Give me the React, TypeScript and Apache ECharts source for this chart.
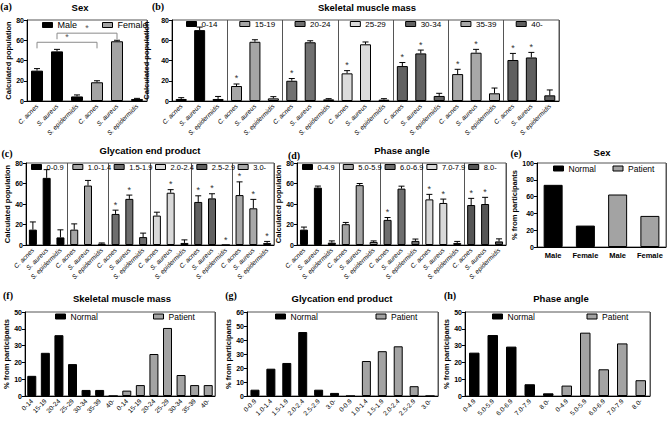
import React, { useEffect, useRef } from "react";
import * as echarts from "echarts";

const FONT = "'Liberation Sans', Arial, Helvetica, sans-serif";
const SERIF = "'Liberation Serif', 'Times New Roman', serif";

const species = ["C. acnes", "S. aureus", "S. epidermidis"];

// (a) Sex – calculated population
const sexGroups = ["Male", "Female"];
const sexMeans = [[30, 49, 4.5], [18.5, 59, 2]];
const sexErrTop = [[32, 51, 6], [20, 60, 2.6]];
// [from category, to category, bracket level, tip level]
const sexBrackets = [[0, 3, 58, 52], [1, 4, 67, 61]];

// (b) Skeletal muscle mass – calculated population
const smmGroups = ["0-14", "15-19", "20-24", "25-29", "30-34", "35-39", "40-"];
const smmMeans = [[2, 70, 2], [14.8, 58.5, 2.6], [20, 58, 1.6], [27.3, 56, 1.3], [34.5, 47, 5], [26.6, 47.7, 7.6], [40.5, 43, 5.6]];
const smmErrTop = [[3.3, 73, 4.5], [16.8, 60.5, 4.3], [22.2, 59.5, 2.3], [30, 58.3, 2.3], [38, 50.3, 7.6], [31.3, 51, 12.8], [47, 48, 10.9]];
const smmStars = [[0, 0, 0], [1, 0, 0], [1, 0, 0], [1, 0, 0], [1, 1, 0], [1, 1, 0], [1, 1, 0]];

// (c) Glycation end product – calculated population
const gepGroups = ["0-0.9", "1.0-1.4", "1.5-1.9", "2.0-2.4", "2.5-2.9", "3.0-"];
const gepMeans = [[15, 65.5, 7.4], [15, 58, 1.3], [30.3, 45, 7.7], [28.7, 51, 2], [42, 45.5, 0], [48.7, 35.8, 2]];
const gepErrTop = [[22.5, 73.5, 14.8], [20.6, 63, 2], [34, 48.7, 11.6], [32, 54, 5], [48, 50, 0], [61.6, 44.5, 3.5]];
const gepStars = [[0, 0, 0], [0, 0, 0], [1, 1, 0], [0, 1, 0], [1, 1, 1], [1, 1, 1]];

// (d) Phase angle – calculated population
const paGroups = ["0-4.9", "5.0-5.9", "6.0-6.9", "7.0-7.9", "8.0-"];
const paMeans = [[15, 56, 2.3], [20.3, 58.4, 3], [24.5, 55, 4], [44.5, 41, 2], [39, 40, 3.5]];
const paErrTop = [[17.5, 57.5, 4], [22, 60, 4], [26.8, 57.4, 5.8], [49.4, 44.8, 3.5], [45.5, 46.5, 6]];
const paStars = [[0, 0, 0], [0, 0, 0], [1, 0, 0], [1, 1, 0], [1, 1, 0]];

// (e)-(h) % from participants
const cohortGroups = ["Normal", "Patient"];
const sexCats = ["Male", "Female"];
const sexShare = [[74, 25.5], [62.5, 37]];
const smmShare = [[12, 25.7, 36.2, 19, 3.6, 3.6, 0], [3.2, 6.5, 25, 40.5, 12.5, 6.5, 6.5]];
const gepShare = [[4.5, 19.5, 23.6, 45.7, 4.5, 2.2], [0, 25, 32, 35.5, 7, 0]];
const paShare = [[25.8, 36.3, 29.4, 7, 1.6], [6.2, 37.7, 15.9, 31.3, 9.4]];

// fills
const sexColors = ["#000000", "#a3a3a3"];
const smmColors = ["#000000", "#a6a6a6", "#707070", "#dcdcdc", "#626262", "#a8a8a8", "#5f5f5f"];
const gepColors = ["#000000", "#a4a4a4", "#6e6e6e", "#d9d9d9", "#616161", "#a8a8a8"];
const paColors = ["#000000", "#a4a4a4", "#6e6e6e", "#d9d9d9", "#555555"];
const cohortColors = ["#000000", "#a3a3a3"];

interface Panel {
  rect: number[];
  groups: string[];
  cats: string[];
  means: number[][];
  errs?: number[][];
  stars?: number[][];
  colors: string[];
  yMax: number;
  yStep: number;
  yName: string;
  nameGap: number;
  barWidth: number;
  legendX: number[];
  legendY: number;
  legendFont: number;
  catRotate: number;
  catFont: number;
  catItalic?: boolean;
  catBold?: boolean;
}

const POP = "Calculated population";
const PCT = "% from participants";

const panels: Panel[] = [
  { rect: [27, 20, 120, 81], groups: sexGroups, cats: species, means: sexMeans, errs: sexErrTop, colors: sexColors,
    yMax: 80, yStep: 20, yName: POP, nameGap: 14, barWidth: 12, legendX: [15, 15], legendY: 25.5, legendFont: 9,
    catRotate: 45, catFont: 6.5, catItalic: true },
  { rect: [172, 20, 387, 81], groups: smmGroups, cats: species, means: smmMeans, errs: smmErrTop, stars: smmStars, colors: smmColors,
    yMax: 80, yStep: 20, yName: POP, nameGap: 14, barWidth: 11, legendX: [14, 12, 12, 12, 12, 12, 12], legendY: 25, legendFont: 8,
    catRotate: 45, catFont: 6.5, catItalic: true },
  { rect: [26, 163, 248, 82], groups: gepGroups, cats: species, means: gepMeans, errs: gepErrTop, stars: gepStars, colors: gepColors,
    yMax: 80, yStep: 20, yName: POP, nameGap: 14, barWidth: 8, legendX: [5, 5, 5, 5, 5, 5], legendY: 168, legendFont: 7.5,
    catRotate: 45, catFont: 6.5, catItalic: true },
  { rect: [297, 163, 209, 82], groups: paGroups, cats: species, means: paMeans, errs: paErrTop, stars: paStars, colors: paColors,
    yMax: 80, yStep: 20, yName: POP, nameGap: 14, barWidth: 8, legendX: [5, 4, 4, 4, 4], legendY: 168, legendFont: 7.5,
    catRotate: 45, catFont: 6.5, catItalic: true },
  { rect: [537, 163, 129, 84], groups: cohortGroups, cats: sexCats, means: sexShare, colors: cohortColors,
    yMax: 100, yStep: 20, yName: PCT, nameGap: 17, barWidth: 19, legendX: [16, 11], legendY: 169, legendFont: 8.5,
    catRotate: 0, catFont: 7.5, catBold: true },
  { rect: [25, 312, 190, 84], groups: cohortGroups, cats: smmGroups, means: smmShare, colors: cohortColors,
    yMax: 50, yStep: 10, yName: PCT, nameGap: 12, barWidth: 9, legendX: [30, 33], legendY: 317, legendFont: 8.5,
    catRotate: 45, catFont: 6.5 },
  { rect: [247, 312, 191, 84], groups: cohortGroups, cats: gepGroups, means: gepShare, colors: cohortColors,
    yMax: 60, yStep: 10, yName: PCT, nameGap: 14, barWidth: 9, legendX: [28, 33], legendY: 317, legendFont: 8.5,
    catRotate: 45, catFont: 6.5 },
  { rect: [465, 312, 185, 84], groups: cohortGroups, cats: paGroups, means: paShare, colors: cohortColors,
    yMax: 50, yStep: 10, yName: PCT, nameGap: 12, barWidth: 10.5, legendX: [27, 29], legendY: 317, legendFont: 8.5,
    catRotate: 45, catFont: 6.5 },
];

const panelTitles = [
  { text: "Sex", x: 80, y: 7 },
  { text: "Skeletal muscle mass", x: 367, y: 7 },
  { text: "Glycation end product", x: 150, y: 150 },
  { text: "Phase angle", x: 402, y: 150 },
  { text: "Sex", x: 602, y: 152 },
  { text: "Skeletal muscle mass", x: 122, y: 298 },
  { text: "Glycation end product", x: 342, y: 298 },
  { text: "Phase angle", x: 561, y: 298 },
];

const panelTags = [
  { text: "(a)", x: 6, y: 6 },
  { text: "(b)", x: 158, y: 6 },
  { text: "(c)", x: 7, y: 153 },
  { text: "(d)", x: 294, y: 155 },
  { text: "(e)", x: 516, y: 153 },
  { text: "(f)", x: 8, y: 295 },
  { text: "(g)", x: 231, y: 295 },
  { text: "(h)", x: 450, y: 295 },
];

const lineStyle = { stroke: "#000", lineWidth: 1 };

function errorBar(_params: any, api: any) {
  const x = api.value(0);
  const m = api.value(1);
  const e = api.value(2);
  const star = api.value(3);
  const pm = api.coord([x, m]);
  const pe = api.coord([x, e]);
  const children: any[] = [];
  if (e > m) {
    children.push({ type: "line", shape: { x1: pm[0], y1: pm[1], x2: pe[0], y2: pe[1] }, style: lineStyle });
    children.push({ type: "line", shape: { x1: pe[0] - 3, y1: pe[1], x2: pe[0] + 3, y2: pe[1] }, style: lineStyle });
  }
  if (star) {
    children.push({
      type: "text", x: pe[0], y: pe[1] - 1,
      style: { text: "*", fontSize: 9, fontFamily: FONT, fill: "#333", align: "center", verticalAlign: "bottom",
        textAlign: "center", textVerticalAlign: "bottom" },
    });
  }
  return { type: "group", children };
}

function bracket(_params: any, api: any) {
  const a = api.value(0);
  const b = api.value(1);
  const level = api.value(2);
  const tip = api.value(3);
  const p1 = api.coord([a, level]);
  const p2 = api.coord([b, level]);
  const t1 = api.coord([a, tip]);
  const t2 = api.coord([b, tip]);
  return {
    type: "group",
    children: [
      { type: "polyline", shape: { points: [t1, p1, p2, t2] }, style: { stroke: "#8a8a8a", lineWidth: 1, fill: "none" } },
      {
        type: "text", x: (p1[0] + p2[0]) / 2, y: p1[1] - 0.5,
        style: { text: "*", fontSize: 9, fontFamily: FONT, fill: "#555", align: "center", verticalAlign: "bottom",
          textAlign: "center", textVerticalAlign: "bottom" },
      },
    ],
  };
}

function buildOption() {
  const grid: any[] = [];
  const xAxis: any[] = [];
  const yAxis: any[] = [];
  const series: any[] = [];
  const legend: any[] = [];
  const graphic: any[] = [];

  panels.forEach((p, gi) => {
    const [l, t, w, h] = p.rect;
    const per = p.cats.length;
    const labels = p.groups.flatMap(() => p.cats);
    grid.push({ left: l, top: t, width: w, height: h, show: true, borderColor: "#555", borderWidth: 1 });
    xAxis.push({
      type: "category", gridIndex: gi, data: labels, boundaryGap: true,
      axisLine: { lineStyle: { color: "#000", width: 1 } },
      axisTick: { alignWithLabel: true, interval: 0, length: 3, lineStyle: { color: "#000" } },
      axisLabel: {
        interval: 0, rotate: p.catRotate, fontSize: p.catFont, color: "#000", margin: 4, fontFamily: FONT,
        fontStyle: p.catItalic ? "italic" : "normal", fontWeight: p.catBold ? "bold" : "normal",
      },
      splitLine: { show: true, interval: (i: number) => i > 0 && i % per === 0, lineStyle: { color: "#555", width: 1 } },
    });
    yAxis.push({
      type: "value", gridIndex: gi, min: 0, max: p.yMax, interval: p.yStep,
      axisLine: { show: true, lineStyle: { color: "#000", width: 1 } },
      axisTick: { show: true, length: 3, lineStyle: { color: "#000" } },
      axisLabel: { fontSize: 7, fontWeight: "bold", color: "#000", margin: 3, fontFamily: FONT },
      splitLine: { show: false },
      name: p.yName, nameLocation: "middle", nameGap: p.nameGap,
      nameTextStyle: { fontSize: 7.5, fontWeight: "bold", color: "#000", fontFamily: FONT },
    });
    const subW = w / p.groups.length;
    p.groups.forEach((g, k) => {
      series.push({
        type: "bar", name: g, xAxisIndex: gi, yAxisIndex: gi, stack: "panel" + gi, barWidth: p.barWidth,
        data: labels.map((_, i) => (Math.floor(i / per) === k ? p.means[k][i % per] : "-")),
        itemStyle: { color: p.colors[k], borderColor: "#000", borderWidth: 1 },
      });
      legend.push({
        left: l + k * subW + p.legendX[k], top: p.legendY - 5, padding: 0, itemWidth: 10, itemHeight: 5,
        itemGap: 0, selectedMode: false, icon: "rect", data: [g],
        itemStyle: { color: p.colors[k], borderColor: "#000", borderWidth: 1 },
        textStyle: { fontSize: p.legendFont, color: "#000", fontFamily: FONT },
      });
    });
    if (p.errs) {
      const errs = p.errs;
      const stars = p.stars;
      series.push({
        type: "custom", xAxisIndex: gi, yAxisIndex: gi, z: 5, silent: true,
        renderItem: errorBar,
        encode: { x: 0, y: [1, 2] },
        data: labels.map((_, i) => {
          const k = Math.floor(i / per);
          const j = i % per;
          return [i, p.means[k][j], errs[k][j], stars ? stars[k][j] : 0];
        }),
      });
    }
  });

  // significance brackets between the sexes
  series.push({
    type: "custom", xAxisIndex: 0, yAxisIndex: 0, z: 6, silent: true,
    renderItem: bracket, encode: { x: 0, y: [2, 3] }, data: sexBrackets,
  });

  panelTitles.forEach((tt) => {
    graphic.push({
      type: "text", x: tt.x, y: tt.y,
      style: { text: tt.text, fontSize: 9.5, fontWeight: "bold", fontFamily: FONT, fill: "#000",
        align: "center", verticalAlign: "middle", textAlign: "center", textVerticalAlign: "middle" },
    });
  });
  panelTags.forEach((tt) => {
    graphic.push({
      type: "text", x: tt.x, y: tt.y,
      style: { text: tt.text, fontSize: 10, fontWeight: "bold", fontFamily: SERIF, fill: "#000",
        align: "center", verticalAlign: "middle", textAlign: "center", textVerticalAlign: "middle" },
    });
  });

  return {
    animation: false,
    backgroundColor: "#ffffff",
    textStyle: { fontFamily: FONT },
    grid, xAxis, yAxis, series, legend, graphic,
  };
}

export default function App() {
  const ref = useRef<HTMLDivElement>(null);
  useEffect(() => {
    document.body.style.margin = "0";
    if (!ref.current) return;
    const chart = echarts.init(ref.current, null, { renderer: "svg" });
    chart.setOption(buildOption() as any);
    return () => chart.dispose();
  }, []);
  return <div ref={ref} style={{ width: 669, height: 421 }} />;
}
